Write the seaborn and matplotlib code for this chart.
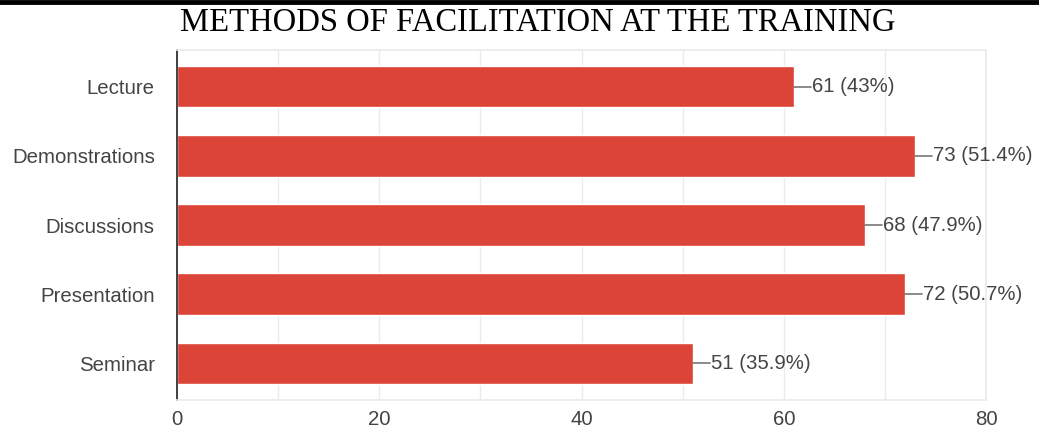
import matplotlib
matplotlib.use("Agg")
import matplotlib.pyplot as plt
import seaborn as sns
import pandas as pd

categories = ["Lecture", "Demonstrations", "Discussions", "Presentation", "Seminar"]
counts = [61, 73, 68, 72, 51]
percents = ["43%", "51.4%", "47.9%", "50.7%", "35.9%"]
x_ticks = [0, 20, 40, 60, 80]

df = pd.DataFrame({"method": categories, "count": counts})

sns.set_theme(style="white")
plt.rcParams["font.family"] = ["Liberation Sans", "DejaVu Sans"]

fig = plt.figure(figsize=(10.39, 4.34), dpi=100)
ax = fig.add_axes([177 / 1039, 1 - 400 / 434, (986 - 177) / 1039, 350 / 434])

sns.barplot(data=df, x="count", y="method", orient="h", color="#db4437",
            saturation=1, width=0.6, ax=ax)

ax.set_xlim(0, 80)
ax.set_xticks(x_ticks)
ax.set_xticks(range(0, 81, 10), minor=True)
ax.grid(True, axis="x", which="both", color="#ebebeb", linewidth=1)
ax.set_axisbelow(True)
for s in ["top", "right", "bottom"]:
    ax.spines[s].set_color("#ebebeb")
ax.spines["left"].set_color("#333333")
ax.spines["left"].set_linewidth(1.3)
ax.set_xlabel("")
ax.set_ylabel("")
ax.tick_params(axis="both", length=0, labelsize=14.7, labelcolor="#444444")
ax.tick_params(axis="x", pad=7)
ax.tick_params(axis="y", pad=16)

for i, (c, p) in enumerate(zip(counts, percents)):
    ax.plot([c, c + 1.7], [i, i], color="#777777", linewidth=1.2)
    ax.text(c + 1.8, i, f"{c} ({p})", va="center", ha="left",
            fontsize=14.7, color="#444444")

fig.text(0.518, 1 - 23 / 434, "METHODS OF FACILITATION AT THE TRAINING",
         ha="center", va="center", fontsize=23.5, family="Liberation Serif",
         color="black")
fig.add_artist(plt.Line2D([0, 1], [1 - 2 / 434, 1 - 2 / 434], color="black",
                          linewidth=3.5, transform=fig.transFigure))

fig.savefig("out.png", dpi=100)
